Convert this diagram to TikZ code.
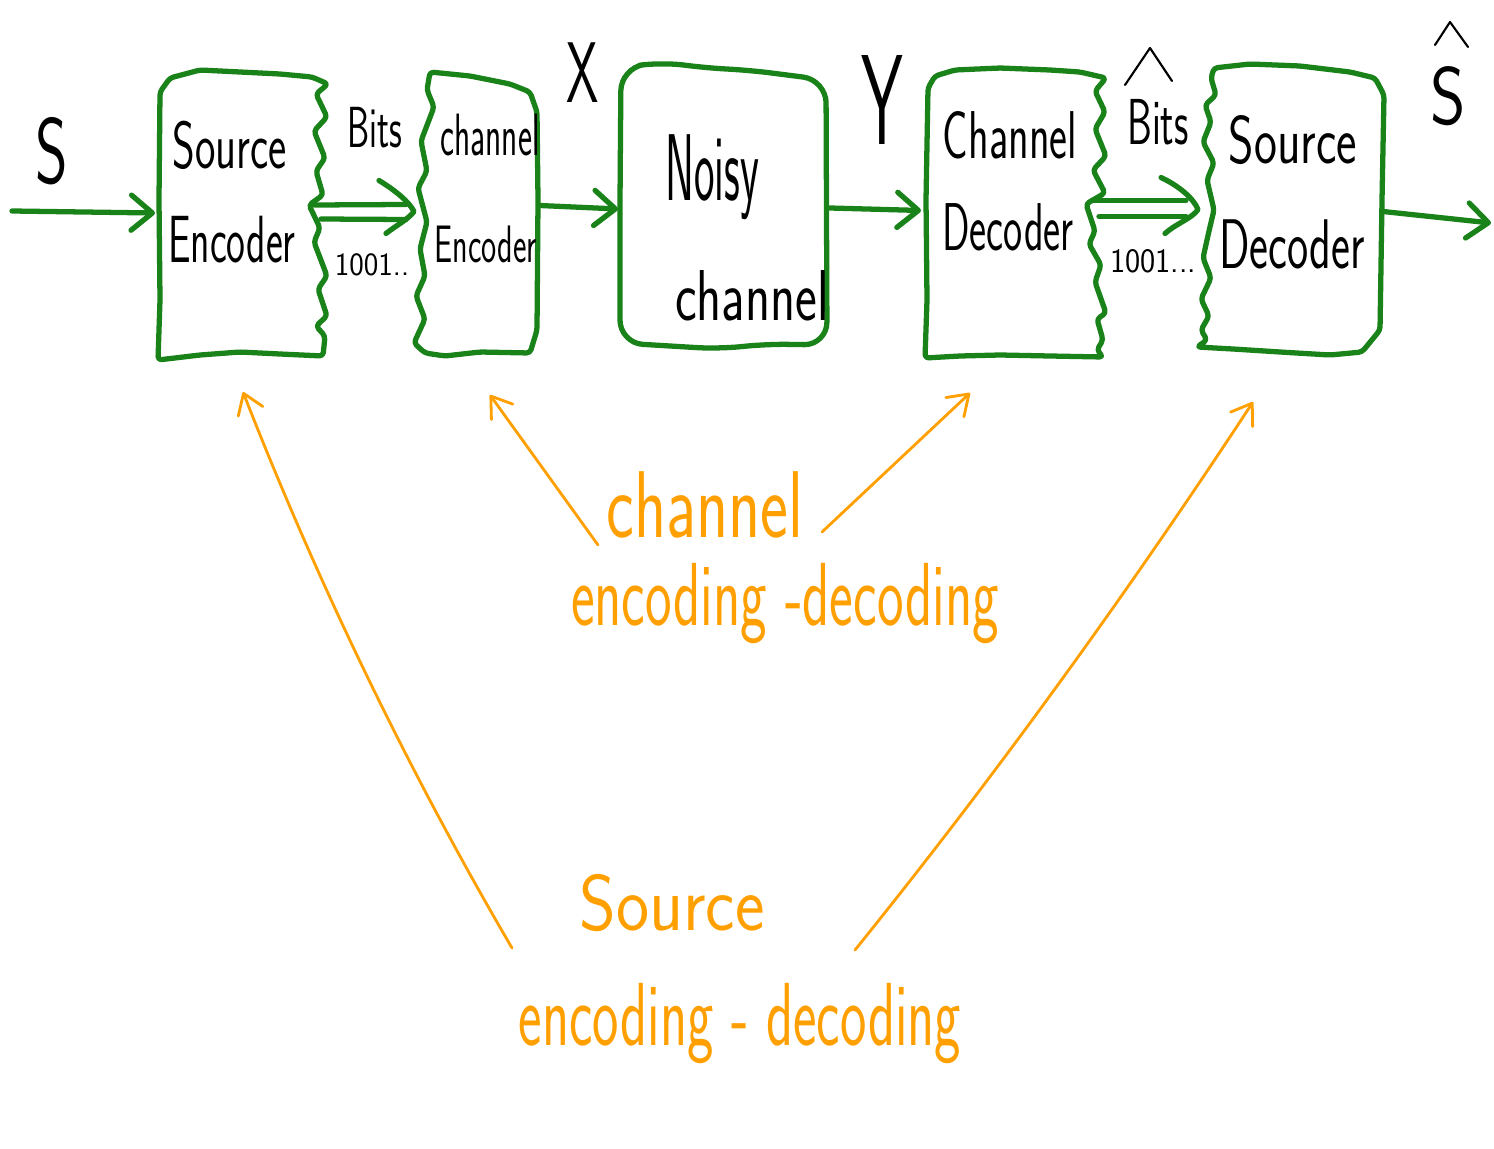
\documentclass[tikz,border=0pt]{standalone}
\usepackage{fontspec}
\usepackage{graphicx}
\usetikzlibrary{arrows.meta,calc}
\definecolor{pen}{RGB}{25,130,25}
\definecolor{marker}{RGB}{255,160,0}
% size (pt), horizontal squeeze, text
\newcommand\hw[3]{\scalebox{#2}[1]{\fontsize{#1}{#1}\selectfont #3}}
\begin{document}
\begin{tikzpicture}[x=0.02cm,y=-0.02cm,
  region/.style={rectangle,draw=none,inner sep=0pt,outer sep=0pt},
  boxline/.style={pen,line width=3pt,line join=round,line cap=round,rounded corners=2pt},
  gstroke/.style={pen,line width=3pt,line cap=round,line join=round},
  gflow/.style={gstroke,-{Straight Barb[length=12pt,width=20pt,round]}},
  ohint/.style={marker,line width=1.6pt,line cap=round,-{Straight Barb[length=11pt,width=15pt,round]}},
  ink/.style={black,line width=1.2pt,line cap=round,line join=round},
  blabel/.style={inner sep=0pt,anchor=base,font=\sffamily},
  olabel/.style={blabel,text=marker}]
\fill[white] (0,0) rectangle (1494,1149);
\useasboundingbox (0,0) rectangle (1494,1149);

% block areas used by the connectors
\node[region,minimum width=3.28cm,minimum height=5.72cm] (senc)  at (240,215) {};
\node[region,minimum width=2.34cm,minimum height=5.66cm] (cenc)  at (478.5,213.5) {};
\node[region,minimum width=4.12cm,minimum height=5.64cm] (noisy) at (723,205) {};
\node[region,minimum width=3.56cm,minimum height=5.78cm] (cdec)  at (1015,212.5) {};
\node[region,minimum width=3.60cm,minimum height=5.82cm] (sdec)  at (1293,209.5) {};

% source encoder outline (ragged right side)
\draw[boxline] (160,92) -- (170,78) -- (200,70) -- (240,72) -- (280,74) -- (312,77) -- (328,84)
  -- (316,94) -- (327,117) -- (314,131) -- (325,158) -- (316,171) -- (323,195) -- (309,205)
  -- (320,228) -- (314,242) -- (327,276) -- (318,289) -- (327,316) -- (316,326) -- (325,336)
  -- (323,356) -- (280,354) -- (240,352) -- (200,355) -- (158,360) -- (160,300) -- (159,200) -- cycle;

% channel encoder outline (ragged left side)
\draw[boxline] (430,72) -- (427,90) -- (434,107) -- (421,141) -- (427,171) -- (418,188)
  -- (427,222) -- (420,249) -- (425,276) -- (416,296) -- (425,319) -- (414,343) -- (425,353)
  -- (445,356) -- (480,352) -- (530,353) -- (537,330) -- (538,200) -- (537,112) -- (530,92)
  -- (510,84) -- (470,76) -- cycle;

% noisy channel outline
\draw[pen,line width=3pt,line join=round,rounded corners=13pt]
  (620,200) -- (621,68) -- (662,62) -- (705,68) -- (748,70) -- (826,80) -- (827,345)
  -- (765,344) -- (720,349) -- (620,343) -- cycle;

% channel decoder outline (ragged right side)
\draw[boxline] (928,88) -- (935,76) -- (955,70) -- (1000,68) -- (1050,70) -- (1080,72) -- (1106,78)
  -- (1095,91) -- (1105,112) -- (1095,129) -- (1106,156) -- (1093,170) -- (1105,193) -- (1086,204)
  -- (1095,231) -- (1089,244) -- (1101,265) -- (1095,282) -- (1106,313) -- (1097,319) -- (1103,340)
  -- (1097,350) -- (1103,357) -- (1050,356) -- (1000,355) -- (960,356) -- (925,358) -- (927,300)
  -- (926,200) -- cycle;

% source decoder outline (ragged left side)
\draw[boxline] (1214,68) -- (1211,78) -- (1216,95) -- (1205,105) -- (1211,122) -- (1203,142)
  -- (1214,163) -- (1207,180) -- (1214,210) -- (1209,231) -- (1203,258) -- (1211,278) -- (1201,299)
  -- (1209,316) -- (1201,330) -- (1207,340) -- (1197,347) -- (1233,349) -- (1280,352) -- (1330,355)
  -- (1362,352) -- (1380,330) -- (1382,200) -- (1384,95) -- (1375,78) -- (1350,72) -- (1300,66)
  -- (1250,64) -- cycle;

% block texts
\node[blabel] (t1a) at (230,168)  {\hw{38}{0.65}{Source}};
\node[blabel] (t1b) at (232,262)  {\hw{38}{0.60}{Encoder}};
\node[blabel] (t2a) at (490,155)  {\hw{34}{0.56}{channel}};
\node[blabel] (t2b) at (486,262)  {\hw{30}{0.61}{Encoder}};
\node[blabel] (t3a) at (712,200)  {\hw{54}{0.46}{Noisy}};
\node[blabel] (t3b) at (752,320)  {\hw{41}{0.72}{channel}};
\node[blabel] (t4a) at (1010,158) {\hw{38.5}{0.63}{Channel}};
\node[blabel] (t4b) at (1008,250) {\hw{38.5}{0.60}{Decoder}};
\node[blabel] (t5a) at (1293,163) {\hw{38.5}{0.72}{Source}};
\node[blabel] (t5b) at (1292,268) {\hw{40}{0.64}{Decoder}};

% signal labels
\node[blabel] (sIn)   at (52,183)   {\hw{53}{0.67}{S}};
\node[blabel] (bits1) at (375,148)  {\hw{33}{0.61}{Bits}};
\node[blabel] (seq1)  at (372,275)  {\hw{18.5}{0.95}{1001..}};
\node[blabel] (xlab)  at (583,103)  {\hw{49}{0.60}{X}};
\node[blabel] (ylab)  at (882,145)  {\hw{73}{0.52}{Y}};
\node[blabel] (bits2) at (1158,145) {\hw{37}{0.61}{Bits}};
\node[blabel] (seq2)  at (1153,272) {\hw{19.5}{0.94}{1001...}};
\node[blabel] (sOut)  at (1448,125) {\hw{46.5}{0.83}{S}};
\draw[ink] (1125,85) -- (1150,48) -- (1172,81);
\draw[ink] (1435,45) -- (1450,22) -- (1468,47);

% signal flow
\coordinate (sin)  at (12,211);
\coordinate (sout) at (1491,223);
\draw[gflow] (sin) -- ($(senc.west)+(-3,-2)$);

% bit stream from source encoder to channel encoder (double arrow)
\coordinate (dA) at ($(cenc.west)+(-6,-2)$);
\draw[gstroke] ($(senc.east)+(-8,-10)$) -- ($(dA)+(-8,-7)$);
\draw[gstroke] ($(senc.east)+(-1,4)$) -- ($(dA)+(-8,8)$);
\draw[gstroke] ($(dA)+(-35,-31)$) .. controls ($(dA)+(-20,-22)$) and ($(dA)+(-5,-10)$) .. (dA)
  .. controls ($(dA)+(-6,8)$) and ($(dA)+(-18,14)$) .. ($(dA)+(-28,22)$);

\draw[gflow] ($(cenc.east)+(3,-8)$) -- ($(noisy.west)+(-2,4)$);
\draw[gflow] ($(noisy.east)+(4,3)$) -- ($(cdec.west)+(-5,-2)$);

% bit stream from channel decoder to source decoder (double arrow)
\coordinate (dB) at ($(sdec.west)+(-5,0)$);
\draw[gstroke] ($(cdec.east)+(-12,-12)$) -- ($(dB)+(-12,-9)$);
\draw[gstroke] ($(cdec.east)+(-5,4)$) -- ($(dB)+(-12,7)$);
\draw[gstroke] ($(dB)+(-37,-32)$) .. controls ($(dB)+(-20,-24)$) and ($(dB)+(-5,-12)$) .. (dB)
  .. controls ($(dB)+(-6,9)$) and ($(dB)+(-22,14)$) .. ($(dB)+(-33,24)$);

\draw[gflow] ($(sdec.east)+(0,2)$) -- (sout);

% annotations
\node[olabel] (chlab)  at (705,537)  {\hw{54}{0.70}{channel}};
\node[olabel] (chlab2) at (785,625)  {\hw{51}{0.63}{encoding -decoding}};
\node[olabel] (srclab) at (672,930)  {\hw{45}{0.89}{Source}};
\node[olabel] (srclab2) at (740,1045) {\hw{51}{0.625}{encoding - decoding}};

\coordinate (tA) at (512,948);
\coordinate (tB) at (598,545);
\coordinate (tC) at (822,532);
\coordinate (tD) at (855,950);
\draw[ohint] (tA) .. controls +(-104,-178) and +(75,192) .. ($(senc.south)+(3,34)$);
\draw[ohint] (tB) -- ($(cenc.south)+(11.5,40)$);
\draw[ohint] (tC) -- ($(cdec.south)+(-45,36)$);
\draw[ohint] (tD) .. controls +(142,-176) and +(-124,189) .. ($(sdec.south)+(-40,47)$);
\end{tikzpicture}
\end{document}
